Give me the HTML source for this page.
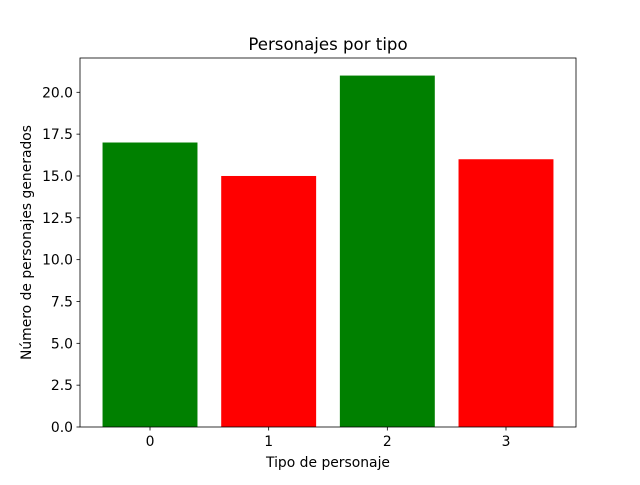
<!DOCTYPE html>
<html><head><meta charset="utf-8"><style>
body{margin:0;background:#fff;}
svg text{font-family:"DejaVu Sans","Liberation Sans",sans-serif;fill:#000;}
</style></head><body>
<svg id="chart" width="640" height="480" xmlns="http://www.w3.org/2000/svg">
<rect width="640" height="480" fill="#fff"/>
<g id="bars"></g><g id="axes"></g>
<text x="328" y="50" font-size="16.6" text-anchor="middle">Personajes por tipo</text>
<text x="328" y="467" font-size="13.9" text-anchor="middle">Tipo de personaje</text>
<text x="31" y="242.5" font-size="13.9" text-anchor="middle" transform="rotate(-90 31 242.5)">Número de personajes generados</text>
</svg>
<script>
const categories=["0","1","2","3"];
const values=[17,15,21,16];
const colors=["green","red","green","red"];
const yTicks=[0,2.5,5,7.5,10,12.5,15,17.5,20];
const L=80,R=576,T=58,B=427;
const xmin=-0.59,xmax=3.59,ymax=22.05;
const xs=v=>L+(v-xmin)/(xmax-xmin)*(R-L);
const ys=v=>B-v/ymax*(B-T);
const NS="http://www.w3.org/2000/svg";
const bars=document.getElementById('bars'),axes=document.getElementById('axes');
function mk(tag,attrs,parent){const e=document.createElementNS(NS,tag);for(const k in attrs)e.setAttribute(k,attrs[k]);parent.appendChild(e);return e;}
values.forEach((v,i)=>{
  const r=mk('rect',{x:xs(i-0.4),y:ys(v),width:xs(i+0.4)-xs(i-0.4),height:ys(0)-ys(v),fill:colors[i]},bars);
  
  
  const t=mk('line',{x1:xs(i),x2:xs(i),y1:B,y2:B+3.5,stroke:'#000','stroke-width':0.8},axes);
  
  
  const l=mk('text',{x:xs(i),y:B+19,'font-size':13.9,'text-anchor':'middle'},axes);
  l.textContent=categories[i];
  
  
});
yTicks.forEach(v=>{
  const t=mk('line',{x1:L-3.5,x2:L,y1:ys(v),y2:ys(v),stroke:'#000','stroke-width':0.8},axes);
  
  
  const l=mk('text',{x:L-7,y:ys(v)+5,'font-size':13.9,'text-anchor':'end'},axes);
  l.textContent=v.toFixed(1);
  
  
});
const f=mk('rect',{x:L,y:T,width:R-L,height:B-T,fill:'none',stroke:'#000','stroke-width':0.8},axes);


</script>
</body></html>
